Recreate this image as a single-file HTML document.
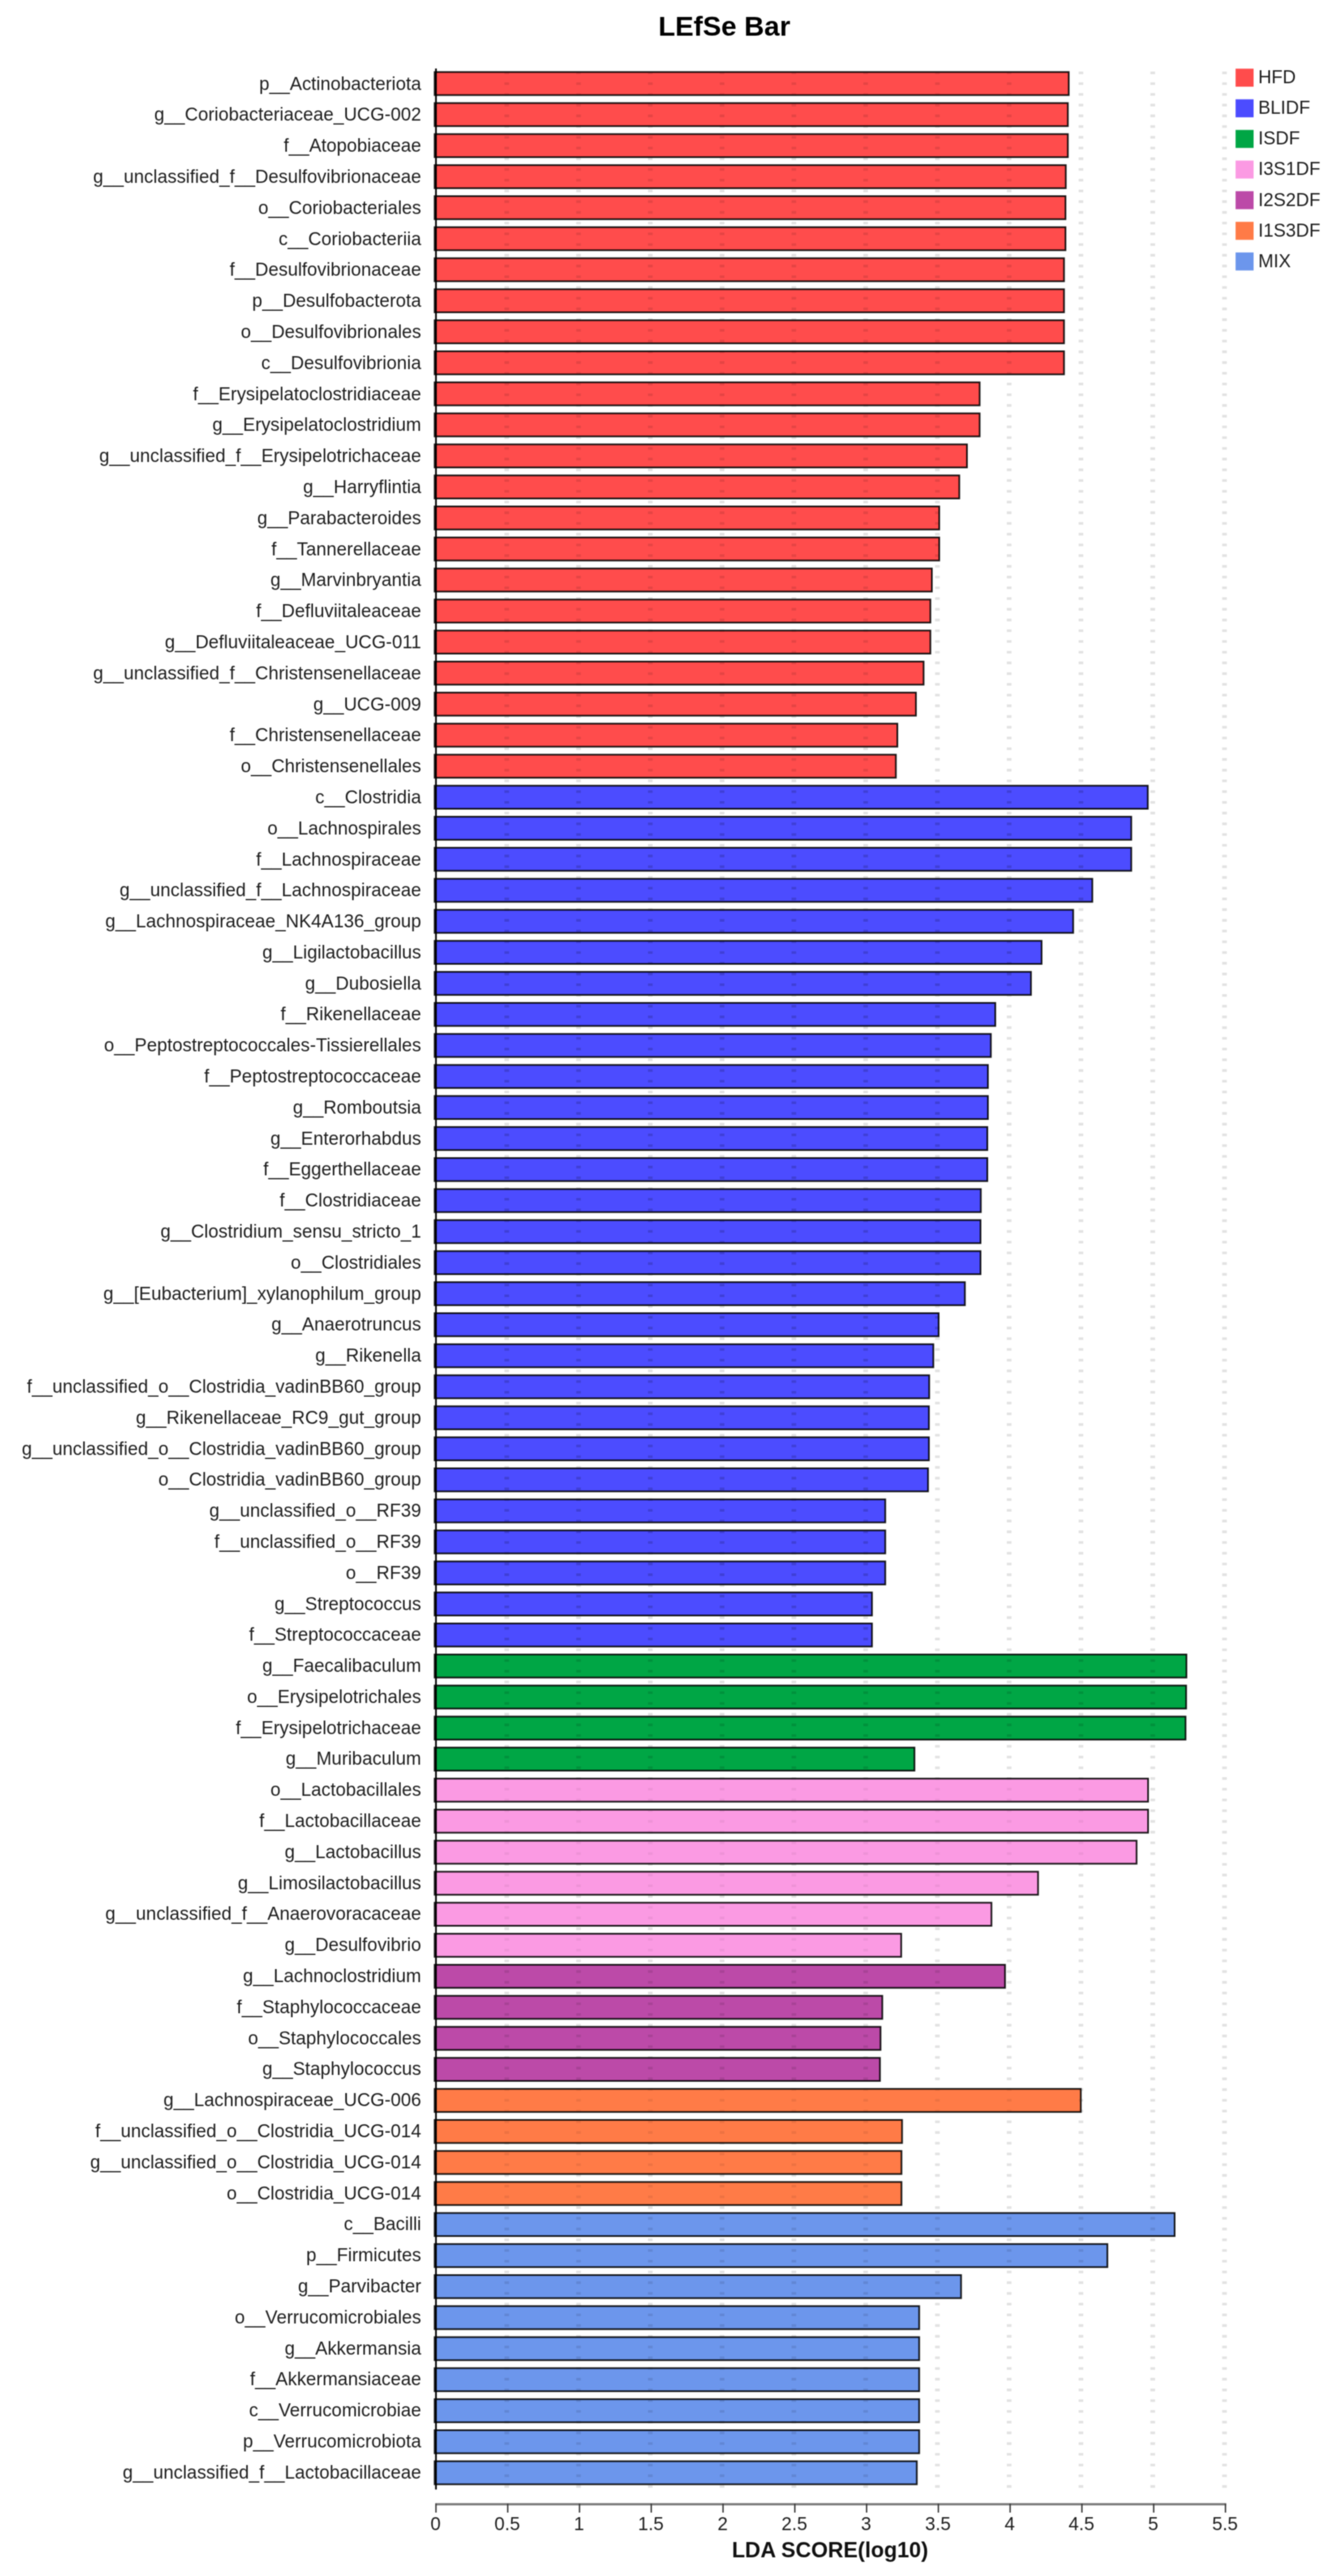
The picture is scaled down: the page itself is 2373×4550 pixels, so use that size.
<!DOCTYPE html>
<html lang="en"><head><meta charset="utf-8"><title>LEfSe Bar</title>
<style>html,body{margin:0;padding:0;background:#fff}svg{display:block}#wrap{width:2373px;height:4550px;overflow:hidden}text{font-family:"Liberation Sans",sans-serif}</style></head><body><div id="wrap">
<svg width="2373" height="4550" viewBox="0 0 2373 4550">
<defs><filter id="soft" filterUnits="userSpaceOnUse" x="0" y="0" width="2373" height="4550" color-interpolation-filters="sRGB"><feConvolveMatrix order="5" kernelMatrix="0.00087 0.00695 0.01388 0.00695 0.00087 0.00695 0.05540 0.11068 0.05540 0.00695 0.01388 0.11068 0.22111 0.11068 0.01388 0.00695 0.05540 0.11068 0.05540 0.00695 0.00087 0.00695 0.01388 0.00695 0.00087" divisor="1" edgeMode="duplicate" preserveAlpha="false"/></filter></defs>
<g filter="url(#soft)">
<rect width="2373" height="4550" fill="#fff"/>
<g stroke="#e2e2e2" stroke-width="8.20" stroke-dasharray="4.600 14.347" fill="none"><line x1="895.42" y1="126.50" x2="895.42" y2="4395.00"/><line x1="1022.24" y1="126.50" x2="1022.24" y2="4395.00"/><line x1="1149.06" y1="126.50" x2="1149.06" y2="4395.00"/><line x1="1275.88" y1="126.50" x2="1275.88" y2="4395.00"/><line x1="1402.70" y1="126.50" x2="1402.70" y2="4395.00"/><line x1="1529.52" y1="126.50" x2="1529.52" y2="4395.00"/><line x1="1656.34" y1="126.50" x2="1656.34" y2="4395.00"/><line x1="1783.16" y1="126.50" x2="1783.16" y2="4395.00"/><line x1="1909.98" y1="126.50" x2="1909.98" y2="4395.00"/><line x1="2036.80" y1="126.50" x2="2036.80" y2="4395.00"/><line x1="2163.62" y1="126.50" x2="2163.62" y2="4395.00"/></g>
<g stroke="#000" stroke-opacity="0.88" stroke-width="3.00">
<rect x="768.00" y="127.25" width="1120.37" height="40.70" fill="#ff4c4c"/>
<rect x="768.00" y="182.06" width="1118.80" height="40.70" fill="#ff4c4c"/>
<rect x="768.00" y="236.86" width="1118.80" height="40.70" fill="#ff4c4c"/>
<rect x="768.00" y="291.67" width="1115.16" height="40.70" fill="#ff4c4c"/>
<rect x="768.00" y="346.47" width="1114.63" height="40.70" fill="#ff4c4c"/>
<rect x="768.00" y="401.28" width="1114.63" height="40.70" fill="#ff4c4c"/>
<rect x="768.00" y="456.09" width="1112.03" height="40.70" fill="#ff4c4c"/>
<rect x="768.00" y="510.89" width="1112.03" height="40.70" fill="#ff4c4c"/>
<rect x="768.00" y="565.70" width="1112.03" height="40.70" fill="#ff4c4c"/>
<rect x="768.00" y="620.50" width="1112.03" height="40.70" fill="#ff4c4c"/>
<rect x="768.00" y="675.31" width="962.96" height="40.70" fill="#ff4c4c"/>
<rect x="768.00" y="730.12" width="962.96" height="40.70" fill="#ff4c4c"/>
<rect x="768.00" y="784.92" width="940.55" height="40.70" fill="#ff4c4c"/>
<rect x="768.00" y="839.73" width="927.00" height="40.70" fill="#ff4c4c"/>
<rect x="768.00" y="894.53" width="891.55" height="40.70" fill="#ff4c4c"/>
<rect x="768.00" y="949.34" width="891.55" height="40.70" fill="#ff4c4c"/>
<rect x="768.00" y="1004.15" width="878.52" height="40.70" fill="#ff4c4c"/>
<rect x="768.00" y="1058.95" width="875.92" height="40.70" fill="#ff4c4c"/>
<rect x="768.00" y="1113.76" width="875.92" height="40.70" fill="#ff4c4c"/>
<rect x="768.00" y="1168.56" width="863.93" height="40.70" fill="#ff4c4c"/>
<rect x="768.00" y="1223.37" width="850.38" height="40.70" fill="#ff4c4c"/>
<rect x="768.00" y="1278.18" width="817.54" height="40.70" fill="#ff4c4c"/>
<rect x="768.00" y="1332.98" width="814.94" height="40.70" fill="#ff4c4c"/>
<rect x="768.00" y="1387.79" width="1260.05" height="40.70" fill="#4c4cff"/>
<rect x="768.00" y="1442.59" width="1230.86" height="40.70" fill="#4c4cff"/>
<rect x="768.00" y="1497.40" width="1230.86" height="40.70" fill="#4c4cff"/>
<rect x="768.00" y="1552.21" width="1162.06" height="40.70" fill="#4c4cff"/>
<rect x="768.00" y="1607.01" width="1128.19" height="40.70" fill="#4c4cff"/>
<rect x="768.00" y="1661.82" width="1072.42" height="40.70" fill="#4c4cff"/>
<rect x="768.00" y="1716.62" width="1053.65" height="40.70" fill="#4c4cff"/>
<rect x="768.00" y="1771.43" width="990.59" height="40.70" fill="#4c4cff"/>
<rect x="768.00" y="1826.24" width="982.77" height="40.70" fill="#4c4cff"/>
<rect x="768.00" y="1881.04" width="977.56" height="40.70" fill="#4c4cff"/>
<rect x="768.00" y="1935.85" width="977.56" height="40.70" fill="#4c4cff"/>
<rect x="768.00" y="1990.65" width="976.51" height="40.70" fill="#4c4cff"/>
<rect x="768.00" y="2045.46" width="976.51" height="40.70" fill="#4c4cff"/>
<rect x="768.00" y="2100.27" width="965.05" height="40.70" fill="#4c4cff"/>
<rect x="768.00" y="2155.07" width="964.52" height="40.70" fill="#4c4cff"/>
<rect x="768.00" y="2209.88" width="964.52" height="40.70" fill="#4c4cff"/>
<rect x="768.00" y="2264.68" width="936.90" height="40.70" fill="#4c4cff"/>
<rect x="768.00" y="2319.49" width="890.51" height="40.70" fill="#4c4cff"/>
<rect x="768.00" y="2374.30" width="881.13" height="40.70" fill="#4c4cff"/>
<rect x="768.00" y="2429.10" width="873.83" height="40.70" fill="#4c4cff"/>
<rect x="768.00" y="2483.91" width="873.31" height="40.70" fill="#4c4cff"/>
<rect x="768.00" y="2538.71" width="873.31" height="40.70" fill="#4c4cff"/>
<rect x="768.00" y="2593.52" width="871.75" height="40.70" fill="#4c4cff"/>
<rect x="768.00" y="2648.33" width="796.17" height="40.70" fill="#4c4cff"/>
<rect x="768.00" y="2703.13" width="796.17" height="40.70" fill="#4c4cff"/>
<rect x="768.00" y="2757.94" width="796.17" height="40.70" fill="#4c4cff"/>
<rect x="768.00" y="2812.74" width="772.72" height="40.70" fill="#4c4cff"/>
<rect x="768.00" y="2867.55" width="772.72" height="40.70" fill="#4c4cff"/>
<rect x="768.00" y="2922.36" width="1328.33" height="40.70" fill="#00a645"/>
<rect x="768.00" y="2977.16" width="1327.81" height="40.70" fill="#00a645"/>
<rect x="768.00" y="3031.97" width="1326.77" height="40.70" fill="#00a645"/>
<rect x="768.00" y="3086.77" width="847.77" height="40.70" fill="#00a645"/>
<rect x="768.00" y="3141.58" width="1260.57" height="40.70" fill="#fb9ae3"/>
<rect x="768.00" y="3196.39" width="1260.57" height="40.70" fill="#fb9ae3"/>
<rect x="768.00" y="3251.19" width="1240.25" height="40.70" fill="#fb9ae3"/>
<rect x="768.00" y="3306.00" width="1066.16" height="40.70" fill="#fb9ae3"/>
<rect x="768.00" y="3360.80" width="983.81" height="40.70" fill="#fb9ae3"/>
<rect x="768.00" y="3415.61" width="824.32" height="40.70" fill="#fb9ae3"/>
<rect x="768.00" y="3470.42" width="1007.79" height="40.70" fill="#bc4aa8"/>
<rect x="768.00" y="3525.22" width="790.96" height="40.70" fill="#bc4aa8"/>
<rect x="768.00" y="3580.03" width="787.83" height="40.70" fill="#bc4aa8"/>
<rect x="768.00" y="3634.83" width="786.79" height="40.70" fill="#bc4aa8"/>
<rect x="768.00" y="3689.64" width="1141.74" height="40.70" fill="#ff7b47"/>
<rect x="768.00" y="3744.45" width="825.88" height="40.70" fill="#ff7b47"/>
<rect x="768.00" y="3799.25" width="824.84" height="40.70" fill="#ff7b47"/>
<rect x="768.00" y="3854.06" width="824.84" height="40.70" fill="#ff7b47"/>
<rect x="768.00" y="3908.86" width="1307.48" height="40.70" fill="#6c96ec"/>
<rect x="768.00" y="3963.67" width="1188.65" height="40.70" fill="#6c96ec"/>
<rect x="768.00" y="4018.48" width="930.12" height="40.70" fill="#6c96ec"/>
<rect x="768.00" y="4073.28" width="856.11" height="40.70" fill="#6c96ec"/>
<rect x="768.00" y="4128.09" width="856.11" height="40.70" fill="#6c96ec"/>
<rect x="768.00" y="4182.89" width="856.11" height="40.70" fill="#6c96ec"/>
<rect x="768.00" y="4237.70" width="856.11" height="40.70" fill="#6c96ec"/>
<rect x="768.00" y="4292.51" width="856.11" height="40.70" fill="#6c96ec"/>
<rect x="768.00" y="4347.31" width="851.94" height="40.70" fill="#6c96ec"/>
</g>
<clipPath id="bc0">
<rect x="769.50" y="128.75" width="1117.37" height="37.70"/>
<rect x="769.50" y="183.56" width="1115.80" height="37.70"/>
<rect x="769.50" y="238.36" width="1115.80" height="37.70"/>
<rect x="769.50" y="293.17" width="1112.16" height="37.70"/>
<rect x="769.50" y="347.97" width="1111.63" height="37.70"/>
<rect x="769.50" y="402.78" width="1111.63" height="37.70"/>
<rect x="769.50" y="457.59" width="1109.03" height="37.70"/>
<rect x="769.50" y="512.39" width="1109.03" height="37.70"/>
<rect x="769.50" y="567.20" width="1109.03" height="37.70"/>
<rect x="769.50" y="622.00" width="1109.03" height="37.70"/>
<rect x="769.50" y="676.81" width="959.96" height="37.70"/>
<rect x="769.50" y="731.62" width="959.96" height="37.70"/>
<rect x="769.50" y="786.42" width="937.55" height="37.70"/>
<rect x="769.50" y="841.23" width="924.00" height="37.70"/>
<rect x="769.50" y="896.03" width="888.55" height="37.70"/>
<rect x="769.50" y="950.84" width="888.55" height="37.70"/>
<rect x="769.50" y="1005.65" width="875.52" height="37.70"/>
<rect x="769.50" y="1060.45" width="872.92" height="37.70"/>
<rect x="769.50" y="1115.26" width="872.92" height="37.70"/>
<rect x="769.50" y="1170.06" width="860.93" height="37.70"/>
<rect x="769.50" y="1224.87" width="847.38" height="37.70"/>
<rect x="769.50" y="1279.68" width="814.54" height="37.70"/>
<rect x="769.50" y="1334.48" width="811.94" height="37.70"/>
</clipPath>
<g clip-path="url(#bc0)" stroke="#000" stroke-opacity="0.10" stroke-width="8.20" stroke-dasharray="4.600 14.347" fill="none">
<line x1="895.42" y1="126.50" x2="895.42" y2="1380.73"/>
<line x1="1022.24" y1="126.50" x2="1022.24" y2="1380.73"/>
<line x1="1149.06" y1="126.50" x2="1149.06" y2="1380.73"/>
<line x1="1275.88" y1="126.50" x2="1275.88" y2="1380.73"/>
<line x1="1402.70" y1="126.50" x2="1402.70" y2="1380.73"/>
<line x1="1529.52" y1="126.50" x2="1529.52" y2="1380.73"/>
<line x1="1656.34" y1="126.50" x2="1656.34" y2="1380.73"/>
<line x1="1783.16" y1="126.50" x2="1783.16" y2="1380.73"/>
<line x1="1909.98" y1="126.50" x2="1909.98" y2="1380.73"/>
<line x1="2036.80" y1="126.50" x2="2036.80" y2="1380.73"/>
<line x1="2163.62" y1="126.50" x2="2163.62" y2="1380.73"/>
</g>
<clipPath id="bc1">
<rect x="769.50" y="1389.29" width="1257.05" height="37.70"/>
<rect x="769.50" y="1444.09" width="1227.86" height="37.70"/>
<rect x="769.50" y="1498.90" width="1227.86" height="37.70"/>
<rect x="769.50" y="1553.71" width="1159.06" height="37.70"/>
<rect x="769.50" y="1608.51" width="1125.19" height="37.70"/>
<rect x="769.50" y="1663.32" width="1069.42" height="37.70"/>
<rect x="769.50" y="1718.12" width="1050.65" height="37.70"/>
<rect x="769.50" y="1772.93" width="987.59" height="37.70"/>
<rect x="769.50" y="1827.74" width="979.77" height="37.70"/>
<rect x="769.50" y="1882.54" width="974.56" height="37.70"/>
<rect x="769.50" y="1937.35" width="974.56" height="37.70"/>
<rect x="769.50" y="1992.15" width="973.51" height="37.70"/>
<rect x="769.50" y="2046.96" width="973.51" height="37.70"/>
<rect x="769.50" y="2101.77" width="962.05" height="37.70"/>
<rect x="769.50" y="2156.57" width="961.52" height="37.70"/>
<rect x="769.50" y="2211.38" width="961.52" height="37.70"/>
<rect x="769.50" y="2266.18" width="933.90" height="37.70"/>
<rect x="769.50" y="2320.99" width="887.51" height="37.70"/>
<rect x="769.50" y="2375.80" width="878.13" height="37.70"/>
<rect x="769.50" y="2430.60" width="870.83" height="37.70"/>
<rect x="769.50" y="2485.41" width="870.31" height="37.70"/>
<rect x="769.50" y="2540.21" width="870.31" height="37.70"/>
<rect x="769.50" y="2595.02" width="868.75" height="37.70"/>
<rect x="769.50" y="2649.83" width="793.17" height="37.70"/>
<rect x="769.50" y="2704.63" width="793.17" height="37.70"/>
<rect x="769.50" y="2759.44" width="793.17" height="37.70"/>
<rect x="769.50" y="2814.24" width="769.72" height="37.70"/>
<rect x="769.50" y="2869.05" width="769.72" height="37.70"/>
</clipPath>
<g clip-path="url(#bc1)" stroke="#000" stroke-opacity="0.16" stroke-width="8.20" stroke-dasharray="4.600 14.347" fill="none">
<line x1="895.42" y1="1376.99" x2="895.42" y2="2915.30"/>
<line x1="1022.24" y1="1376.99" x2="1022.24" y2="2915.30"/>
<line x1="1149.06" y1="1376.99" x2="1149.06" y2="2915.30"/>
<line x1="1275.88" y1="1376.99" x2="1275.88" y2="2915.30"/>
<line x1="1402.70" y1="1376.99" x2="1402.70" y2="2915.30"/>
<line x1="1529.52" y1="1376.99" x2="1529.52" y2="2915.30"/>
<line x1="1656.34" y1="1376.99" x2="1656.34" y2="2915.30"/>
<line x1="1783.16" y1="1376.99" x2="1783.16" y2="2915.30"/>
<line x1="1909.98" y1="1376.99" x2="1909.98" y2="2915.30"/>
<line x1="2036.80" y1="1376.99" x2="2036.80" y2="2915.30"/>
<line x1="2163.62" y1="1376.99" x2="2163.62" y2="2915.30"/>
</g>
<clipPath id="bc2">
<rect x="769.50" y="2923.86" width="1325.33" height="37.70"/>
<rect x="769.50" y="2978.66" width="1324.81" height="37.70"/>
<rect x="769.50" y="3033.47" width="1323.77" height="37.70"/>
<rect x="769.50" y="3088.27" width="844.77" height="37.70"/>
</clipPath>
<g clip-path="url(#bc2)" stroke="#000" stroke-opacity="0.12" stroke-width="8.20" stroke-dasharray="4.600 14.347" fill="none">
<line x1="895.42" y1="2911.68" x2="895.42" y2="3134.53"/>
<line x1="1022.24" y1="2911.68" x2="1022.24" y2="3134.53"/>
<line x1="1149.06" y1="2911.68" x2="1149.06" y2="3134.53"/>
<line x1="1275.88" y1="2911.68" x2="1275.88" y2="3134.53"/>
<line x1="1402.70" y1="2911.68" x2="1402.70" y2="3134.53"/>
<line x1="1529.52" y1="2911.68" x2="1529.52" y2="3134.53"/>
<line x1="1656.34" y1="2911.68" x2="1656.34" y2="3134.53"/>
<line x1="1783.16" y1="2911.68" x2="1783.16" y2="3134.53"/>
<line x1="1909.98" y1="2911.68" x2="1909.98" y2="3134.53"/>
<line x1="2036.80" y1="2911.68" x2="2036.80" y2="3134.53"/>
<line x1="2163.62" y1="2911.68" x2="2163.62" y2="3134.53"/>
</g>
<clipPath id="bc3">
<rect x="769.50" y="3143.08" width="1257.57" height="37.70"/>
<rect x="769.50" y="3197.89" width="1257.57" height="37.70"/>
<rect x="769.50" y="3252.69" width="1237.25" height="37.70"/>
<rect x="769.50" y="3307.50" width="1063.16" height="37.70"/>
<rect x="769.50" y="3362.30" width="980.81" height="37.70"/>
<rect x="769.50" y="3417.11" width="821.32" height="37.70"/>
</clipPath>
<g clip-path="url(#bc3)" stroke="#000" stroke-opacity="0.05" stroke-width="8.20" stroke-dasharray="4.600 14.347" fill="none">
<line x1="895.42" y1="3120.09" x2="895.42" y2="3463.36"/>
<line x1="1022.24" y1="3120.09" x2="1022.24" y2="3463.36"/>
<line x1="1149.06" y1="3120.09" x2="1149.06" y2="3463.36"/>
<line x1="1275.88" y1="3120.09" x2="1275.88" y2="3463.36"/>
<line x1="1402.70" y1="3120.09" x2="1402.70" y2="3463.36"/>
<line x1="1529.52" y1="3120.09" x2="1529.52" y2="3463.36"/>
<line x1="1656.34" y1="3120.09" x2="1656.34" y2="3463.36"/>
<line x1="1783.16" y1="3120.09" x2="1783.16" y2="3463.36"/>
<line x1="1909.98" y1="3120.09" x2="1909.98" y2="3463.36"/>
<line x1="2036.80" y1="3120.09" x2="2036.80" y2="3463.36"/>
<line x1="2163.62" y1="3120.09" x2="2163.62" y2="3463.36"/>
</g>
<clipPath id="bc4">
<rect x="769.50" y="3471.92" width="1004.79" height="37.70"/>
<rect x="769.50" y="3526.72" width="787.96" height="37.70"/>
<rect x="769.50" y="3581.53" width="784.83" height="37.70"/>
<rect x="769.50" y="3636.33" width="783.79" height="37.70"/>
</clipPath>
<g clip-path="url(#bc4)" stroke="#000" stroke-opacity="0.10" stroke-width="8.20" stroke-dasharray="4.600 14.347" fill="none">
<line x1="895.42" y1="3461.14" x2="895.42" y2="3682.59"/>
<line x1="1022.24" y1="3461.14" x2="1022.24" y2="3682.59"/>
<line x1="1149.06" y1="3461.14" x2="1149.06" y2="3682.59"/>
<line x1="1275.88" y1="3461.14" x2="1275.88" y2="3682.59"/>
<line x1="1402.70" y1="3461.14" x2="1402.70" y2="3682.59"/>
<line x1="1529.52" y1="3461.14" x2="1529.52" y2="3682.59"/>
<line x1="1656.34" y1="3461.14" x2="1656.34" y2="3682.59"/>
<line x1="1783.16" y1="3461.14" x2="1783.16" y2="3682.59"/>
<line x1="1909.98" y1="3461.14" x2="1909.98" y2="3682.59"/>
<line x1="2036.80" y1="3461.14" x2="2036.80" y2="3682.59"/>
<line x1="2163.62" y1="3461.14" x2="2163.62" y2="3682.59"/>
</g>
<clipPath id="bc5">
<rect x="769.50" y="3691.14" width="1138.74" height="37.70"/>
<rect x="769.50" y="3745.95" width="822.88" height="37.70"/>
<rect x="769.50" y="3800.75" width="821.84" height="37.70"/>
<rect x="769.50" y="3855.56" width="821.84" height="37.70"/>
</clipPath>
<g clip-path="url(#bc5)" stroke="#000" stroke-opacity="0.07" stroke-width="8.20" stroke-dasharray="4.600 14.347" fill="none">
<line x1="895.42" y1="3669.55" x2="895.42" y2="3901.81"/>
<line x1="1022.24" y1="3669.55" x2="1022.24" y2="3901.81"/>
<line x1="1149.06" y1="3669.55" x2="1149.06" y2="3901.81"/>
<line x1="1275.88" y1="3669.55" x2="1275.88" y2="3901.81"/>
<line x1="1402.70" y1="3669.55" x2="1402.70" y2="3901.81"/>
<line x1="1529.52" y1="3669.55" x2="1529.52" y2="3901.81"/>
<line x1="1656.34" y1="3669.55" x2="1656.34" y2="3901.81"/>
<line x1="1783.16" y1="3669.55" x2="1783.16" y2="3901.81"/>
<line x1="1909.98" y1="3669.55" x2="1909.98" y2="3901.81"/>
<line x1="2036.80" y1="3669.55" x2="2036.80" y2="3901.81"/>
<line x1="2163.62" y1="3669.55" x2="2163.62" y2="3901.81"/>
</g>
<clipPath id="bc6">
<rect x="769.50" y="3910.36" width="1304.48" height="37.70"/>
<rect x="769.50" y="3965.17" width="1185.65" height="37.70"/>
<rect x="769.50" y="4019.98" width="927.12" height="37.70"/>
<rect x="769.50" y="4074.78" width="853.11" height="37.70"/>
<rect x="769.50" y="4129.59" width="853.11" height="37.70"/>
<rect x="769.50" y="4184.39" width="853.11" height="37.70"/>
<rect x="769.50" y="4239.20" width="853.11" height="37.70"/>
<rect x="769.50" y="4294.01" width="853.11" height="37.70"/>
<rect x="769.50" y="4348.81" width="848.94" height="37.70"/>
</clipPath>
<g clip-path="url(#bc6)" stroke="#000" stroke-opacity="0.10" stroke-width="8.20" stroke-dasharray="4.600 14.347" fill="none">
<line x1="895.42" y1="3896.91" x2="895.42" y2="4395.00"/>
<line x1="1022.24" y1="3896.91" x2="1022.24" y2="4395.00"/>
<line x1="1149.06" y1="3896.91" x2="1149.06" y2="4395.00"/>
<line x1="1275.88" y1="3896.91" x2="1275.88" y2="4395.00"/>
<line x1="1402.70" y1="3896.91" x2="1402.70" y2="4395.00"/>
<line x1="1529.52" y1="3896.91" x2="1529.52" y2="4395.00"/>
<line x1="1656.34" y1="3896.91" x2="1656.34" y2="4395.00"/>
<line x1="1783.16" y1="3896.91" x2="1783.16" y2="4395.00"/>
<line x1="1909.98" y1="3896.91" x2="1909.98" y2="4395.00"/>
<line x1="2036.80" y1="3896.91" x2="2036.80" y2="4395.00"/>
<line x1="2163.62" y1="3896.91" x2="2163.62" y2="4395.00"/>
</g>
<line x1="770.30" y1="121.00" x2="770.30" y2="4397.30" stroke="#000" stroke-width="3.0"/>
<line x1="769.00" y1="4423.30" x2="2166.62" y2="4423.30" stroke="#7a7a7a" stroke-width="4.0"/>
<g stroke="#3a3a3a" stroke-width="2.5" fill="none">
<line x1="770.30" y1="4422.30" x2="770.30" y2="4438.00"/>
<line x1="897.12" y1="4422.30" x2="897.12" y2="4438.00"/>
<line x1="1023.94" y1="4422.30" x2="1023.94" y2="4438.00"/>
<line x1="1150.76" y1="4422.30" x2="1150.76" y2="4438.00"/>
<line x1="1277.58" y1="4422.30" x2="1277.58" y2="4438.00"/>
<line x1="1404.40" y1="4422.30" x2="1404.40" y2="4438.00"/>
<line x1="1531.22" y1="4422.30" x2="1531.22" y2="4438.00"/>
<line x1="1658.04" y1="4422.30" x2="1658.04" y2="4438.00"/>
<line x1="1784.86" y1="4422.30" x2="1784.86" y2="4438.00"/>
<line x1="1911.68" y1="4422.30" x2="1911.68" y2="4438.00"/>
<line x1="2038.50" y1="4422.30" x2="2038.50" y2="4438.00"/>
<line x1="2165.32" y1="4422.30" x2="2165.32" y2="4438.00"/>
</g>
<g font-size="32.80" fill="#1e1e1e" text-anchor="middle">
<text x="769.50" y="4468.80">0</text>
<text x="896.32" y="4468.80">0.5</text>
<text x="1023.14" y="4468.80">1</text>
<text x="1149.96" y="4468.80">1.5</text>
<text x="1276.78" y="4468.80">2</text>
<text x="1403.60" y="4468.80">2.5</text>
<text x="1530.42" y="4468.80">3</text>
<text x="1657.24" y="4468.80">3.5</text>
<text x="1784.06" y="4468.80">4</text>
<text x="1910.88" y="4468.80">4.5</text>
<text x="2037.70" y="4468.80">5</text>
<text x="2164.52" y="4468.80">5.5</text>
</g>
<text x="1466.60" y="4517.30" font-size="38.00" font-weight="bold" fill="#111" text-anchor="middle">LDA SCORE(log10)</text>
<text x="1279.80" y="63.20" font-size="48.80" font-weight="bold" fill="#000" text-anchor="middle">LEfSe Bar</text>
<g font-size="32.40" fill="#1e1e1e" text-anchor="end">
<text x="744.30" y="158.70">p__Actinobacteriota</text>
<text x="744.30" y="213.49">g__Coriobacteriaceae_UCG-002</text>
<text x="744.30" y="268.28">f__Atopobiaceae</text>
<text x="744.30" y="323.08">g__unclassified_f__Desulfovibrionaceae</text>
<text x="744.30" y="377.87">o__Coriobacteriales</text>
<text x="744.30" y="432.66">c__Coriobacteriia</text>
<text x="744.30" y="487.45">f__Desulfovibrionaceae</text>
<text x="744.30" y="542.24">p__Desulfobacterota</text>
<text x="744.30" y="597.04">o__Desulfovibrionales</text>
<text x="744.30" y="651.83">c__Desulfovibrionia</text>
<text x="744.30" y="706.62">f__Erysipelatoclostridiaceae</text>
<text x="744.30" y="761.41">g__Erysipelatoclostridium</text>
<text x="744.30" y="816.20">g__unclassified_f__Erysipelotrichaceae</text>
<text x="744.30" y="871.00">g__Harryflintia</text>
<text x="744.30" y="925.79">g__Parabacteroides</text>
<text x="744.30" y="980.58">f__Tannerellaceae</text>
<text x="744.30" y="1035.37">g__Marvinbryantia</text>
<text x="744.30" y="1090.16">f__Defluviitaleaceae</text>
<text x="744.30" y="1144.96">g__Defluviitaleaceae_UCG-011</text>
<text x="744.30" y="1199.75">g__unclassified_f__Christensenellaceae</text>
<text x="744.30" y="1254.54">g__UCG-009</text>
<text x="744.30" y="1309.33">f__Christensenellaceae</text>
<text x="744.30" y="1364.12">o__Christensenellales</text>
<text x="744.30" y="1418.92">c__Clostridia</text>
<text x="744.30" y="1473.71">o__Lachnospirales</text>
<text x="744.30" y="1528.50">f__Lachnospiraceae</text>
<text x="744.30" y="1583.29">g__unclassified_f__Lachnospiraceae</text>
<text x="744.30" y="1638.08">g__Lachnospiraceae_NK4A136_group</text>
<text x="744.30" y="1692.88">g__Ligilactobacillus</text>
<text x="744.30" y="1747.67">g__Dubosiella</text>
<text x="744.30" y="1802.46">f__Rikenellaceae</text>
<text x="744.30" y="1857.25">o__Peptostreptococcales-Tissierellales</text>
<text x="744.30" y="1912.04">f__Peptostreptococcaceae</text>
<text x="744.30" y="1966.84">g__Romboutsia</text>
<text x="744.30" y="2021.63">g__Enterorhabdus</text>
<text x="744.30" y="2076.42">f__Eggerthellaceae</text>
<text x="744.30" y="2131.21">f__Clostridiaceae</text>
<text x="744.30" y="2186.00">g__Clostridium_sensu_stricto_1</text>
<text x="744.30" y="2240.80">o__Clostridiales</text>
<text x="744.30" y="2295.59">g__[Eubacterium]_xylanophilum_group</text>
<text x="744.30" y="2350.38">g__Anaerotruncus</text>
<text x="744.30" y="2405.17">g__Rikenella</text>
<text x="744.30" y="2459.96">f__unclassified_o__Clostridia_vadinBB60_group</text>
<text x="744.30" y="2514.76">g__Rikenellaceae_RC9_gut_group</text>
<text x="744.30" y="2569.55">g__unclassified_o__Clostridia_vadinBB60_group</text>
<text x="744.30" y="2624.34">o__Clostridia_vadinBB60_group</text>
<text x="744.30" y="2679.13">g__unclassified_o__RF39</text>
<text x="744.30" y="2733.92">f__unclassified_o__RF39</text>
<text x="744.30" y="2788.72">o__RF39</text>
<text x="744.30" y="2843.51">g__Streptococcus</text>
<text x="744.30" y="2898.30">f__Streptococcaceae</text>
<text x="744.30" y="2953.09">g__Faecalibaculum</text>
<text x="744.30" y="3007.88">o__Erysipelotrichales</text>
<text x="744.30" y="3062.68">f__Erysipelotrichaceae</text>
<text x="744.30" y="3117.47">g__Muribaculum</text>
<text x="744.30" y="3172.26">o__Lactobacillales</text>
<text x="744.30" y="3227.05">f__Lactobacillaceae</text>
<text x="744.30" y="3281.84">g__Lactobacillus</text>
<text x="744.30" y="3336.64">g__Limosilactobacillus</text>
<text x="744.30" y="3391.43">g__unclassified_f__Anaerovoracaceae</text>
<text x="744.30" y="3446.22">g__Desulfovibrio</text>
<text x="744.30" y="3501.01">g__Lachnoclostridium</text>
<text x="744.30" y="3555.80">f__Staphylococcaceae</text>
<text x="744.30" y="3610.60">o__Staphylococcales</text>
<text x="744.30" y="3665.39">g__Staphylococcus</text>
<text x="744.30" y="3720.18">g__Lachnospiraceae_UCG-006</text>
<text x="744.30" y="3774.97">f__unclassified_o__Clostridia_UCG-014</text>
<text x="744.30" y="3829.76">g__unclassified_o__Clostridia_UCG-014</text>
<text x="744.30" y="3884.56">o__Clostridia_UCG-014</text>
<text x="744.30" y="3939.35">c__Bacilli</text>
<text x="744.30" y="3994.14">p__Firmicutes</text>
<text x="744.30" y="4048.93">g__Parvibacter</text>
<text x="744.30" y="4103.72">o__Verrucomicrobiales</text>
<text x="744.30" y="4158.52">g__Akkermansia</text>
<text x="744.30" y="4213.31">f__Akkermansiaceae</text>
<text x="744.30" y="4268.10">c__Verrucomicrobiae</text>
<text x="744.30" y="4322.89">p__Verrucomicrobiota</text>
<text x="744.30" y="4377.68">g__unclassified_f__Lactobacillaceae</text>
</g>
<g font-size="32.40" fill="#1e1e1e">
<rect x="2183.20" y="121.30" width="31.80" height="31.80" fill="#ff4c4c"/>
<text x="2223.20" y="147.10">HFD</text>
<rect x="2183.20" y="175.40" width="31.80" height="31.80" fill="#4c4cff"/>
<text x="2223.20" y="201.20">BLIDF</text>
<rect x="2183.20" y="229.50" width="31.80" height="31.80" fill="#00a645"/>
<text x="2223.20" y="255.30">ISDF</text>
<rect x="2183.20" y="283.60" width="31.80" height="31.80" fill="#fb9ae3"/>
<text x="2223.20" y="309.40">I3S1DF</text>
<rect x="2183.20" y="337.70" width="31.80" height="31.80" fill="#bc4aa8"/>
<text x="2223.20" y="363.50">I2S2DF</text>
<rect x="2183.20" y="391.80" width="31.80" height="31.80" fill="#ff7b47"/>
<text x="2223.20" y="417.60">I1S3DF</text>
<rect x="2183.20" y="445.90" width="31.80" height="31.80" fill="#6c96ec"/>
<text x="2223.20" y="471.70">MIX</text>
</g>
</g></svg></div></body></html>
